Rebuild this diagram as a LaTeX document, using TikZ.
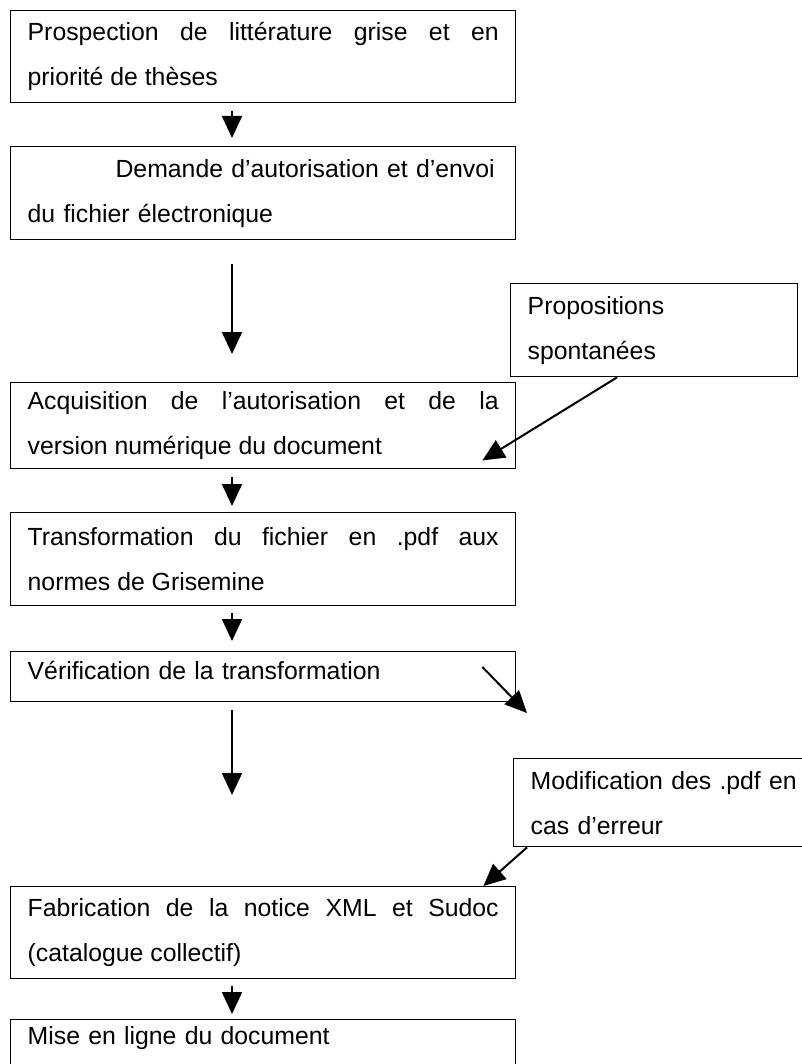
\documentclass[tikz,border=0pt]{standalone}
\usepackage{fontspec}
\setmainfont{Liberation Sans}
\usetikzlibrary{arrows.meta}
\begin{document}
\begin{tikzpicture}[x=1pt,y=-1pt,
  box/.style={draw, line width=1.4pt, anchor=north west, inner xsep=17pt, inner ysep=0pt,
    font=\fontsize{24.8}{45}\selectfont, align=justify},
  lbox/.style={box, align=left},
  flow/.style={line width=2pt, -{Triangle[width=20pt,length=22pt]}}]
\useasboundingbox (0,0) rectangle (801,1064);
\hfuzz=100pt \hbadness=10000
% boxes
\node[box, text width=471pt, minimum height=92pt] (b1) at (10,10)
  {Prospection de littérature grise et en\linebreak priorité de thèses};
\node[lbox, text width=471pt, minimum height=93pt] (b2) at (10,146)
  {\makebox[471pt][r]{Demande d’autorisation et d’envoi\hspace*{4pt}}\\du fichier électronique};
\node[lbox, text width=253pt, minimum height=93pt] (prop) at (510,283)
  {Propositions\\spontanées};
\node[box, text width=471pt, minimum height=86pt] (b3) at (10,382)
  {Acquisition de l’autorisation et de la\linebreak version numérique du document};
\node[box, text width=471pt, minimum height=93pt] (b4) at (10,512)
  {Transformation du fichier en .pdf aux\linebreak normes de Grisemine};
\node[lbox, text width=471pt, minimum height=50pt, text depth=12pt] (b5) at (10,651)
  {Vérification de la transformation};
\node[lbox, text width=290pt, minimum height=88pt] (mod) at (513,758)
  {Modification des .pdf en\\cas d’erreur};
\node[box, text width=471pt, minimum height=92pt] (b6) at (10,886)
  {Fabrication de la notice XML et Sudoc\linebreak (catalogue collectif)};
\node[lbox, text width=471pt, minimum height=60pt, text depth=28pt] (b7) at (10,1019)
  {Mise en ligne du document};
% connectors
\draw[flow] ([xshift=222pt,yshift=-8pt]b1.south west) -- ([xshift=222pt,yshift=8pt]b2.north west);
\draw[flow] ([xshift=222pt,yshift=-24pt]b2.south west) -- ([xshift=222pt,yshift=28pt]b3.north west);
\draw[flow] ([xshift=222pt,yshift=-8pt]b3.south west) -- ([xshift=222pt,yshift=6pt]b4.north west);
\draw[flow] ([xshift=222pt,yshift=-7pt]b4.south west) -- ([xshift=222pt,yshift=10pt]b5.north west);
\coordinate (e5) at (232,795);
\draw[flow] ([xshift=222pt,yshift=-8pt]b5.south west) -- (e5);
\draw[flow] ([xshift=107pt]prop.south west) -- ([xshift=-34pt,yshift=9pt]b3.south east);
\coordinate (d5) at (527,713);
\draw[flow] ([xshift=-34pt,yshift=-16pt]b5.north east) -- (d5);
\draw[flow] ([xshift=14pt]mod.south west) -- ([xshift=-33pt]b6.north east);
\draw[flow] ([xshift=222pt,yshift=-7pt]b6.south west) -- ([xshift=222pt,yshift=5pt]b7.north west);
\end{tikzpicture}
\end{document}
